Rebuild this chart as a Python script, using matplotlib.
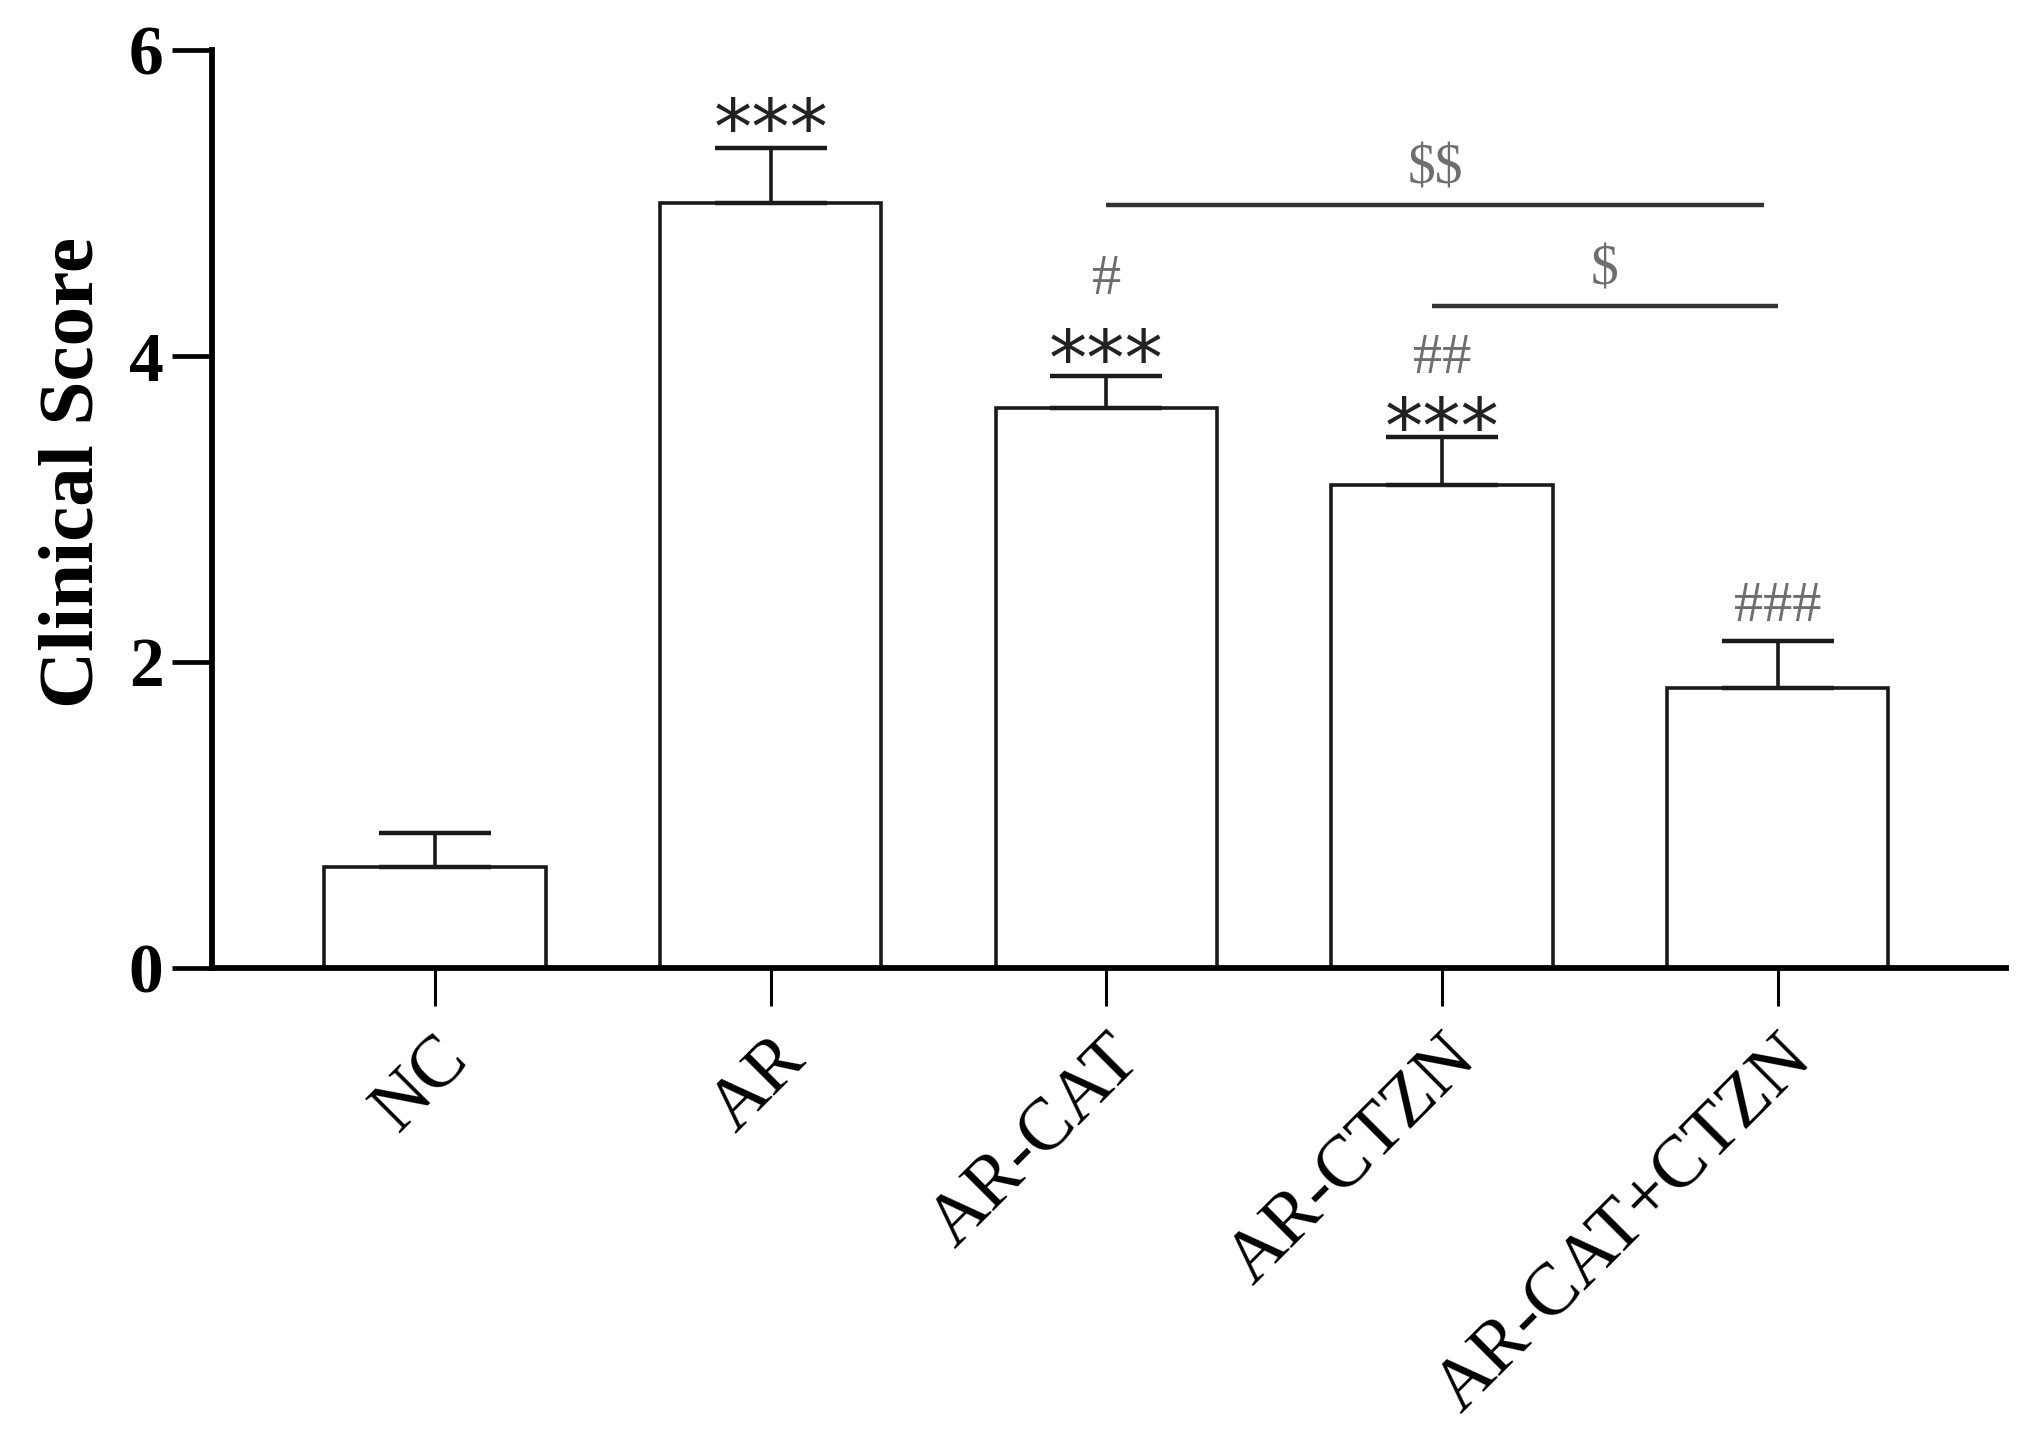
import matplotlib
matplotlib.use("Agg")
from matplotlib import pyplot as plt

groups = ["NC", "AR", "AR-CAT", "AR-CTZN", "AR-CAT+CTZN"]
means = [0.66, 5.0, 3.66, 3.16, 1.83]
sems = [0.22, 0.36, 0.21, 0.31, 0.31]

# marks above the bars
star_marks = ["", "***", "***", "***", ""]
star_y = [0, 5.46, 3.95, 3.50, 0]
hash_marks = ["", "", "#", "##", "###"]
hash_y = [0, 0, 4.50, 3.98, 2.36]

# comparison lines: (x start, x end, y, label, label y)
brackets = [
    (2.0, 3.96, 4.99, "$$", 5.22),
    (2.97, 4.0, 4.33, "$", 4.56),
]

plt.rcParams["font.family"] = ["Liberation Serif", "DejaVu Serif"]

fig = plt.figure(figsize=(20.27, 14.46), dpi=100)
ax = fig.add_axes([0.1046, 0.3306, 0.885, 0.6348])

x = list(range(len(groups)))
ax.bar(x, means, width=0.66, color="white", edgecolor="#1a1a1a", linewidth=2.6, zorder=2)
ax.errorbar(x, means, yerr=[[0] * len(sems), sems], fmt="none", ecolor="#1a1a1a",
            elinewidth=2.6, capsize=40, capthick=3.2, zorder=3)

for i in x:
    if star_marks[i]:
        ax.text(i, star_y[i], star_marks[i], ha="center", va="center", fontsize=55,
                color="#222222", family=["DejaVu Sans"])
    if hash_marks[i]:
        ax.text(i, hash_y[i], hash_marks[i], ha="center", va="center", fontsize=42,
                color="#6e6e6e")

for x0, x1, y, lab, ly in brackets:
    ax.plot([x0, x1], [y, y], color="#333333", linewidth=3.2, solid_capstyle="butt")
    ax.text((x0 + x1) / 2, ly, lab, ha="center", va="center", fontsize=40, color="#6e6e6e",
            parse_math=False)

ax.set_xlim(-0.664, 4.68)
ax.set_ylim(0, 6)
ax.set_yticks([0, 2, 4, 6])
ax.set_xticks(x)
ax.set_xticklabels(groups, rotation=45, ha="right", rotation_mode="anchor", fontsize=53)
for lab in ax.get_yticklabels():
    lab.set_fontsize(50)
    lab.set_fontweight("bold")

ax.spines["top"].set_visible(False)
ax.spines["right"].set_visible(False)
ax.spines["left"].set_linewidth(4.2)
ax.spines["bottom"].set_linewidth(4.2)
ax.tick_params(axis="y", direction="out", length=29, width=3.4, pad=6)
ax.tick_params(axis="x", direction="out", length=27, width=2.2, pad=14)

ax.set_ylabel("Clinical Score", fontsize=57, fontweight="bold", va="center")
ax.yaxis.set_label_coords(-0.077, 0.54)

fig.savefig("out.png", dpi=100)
